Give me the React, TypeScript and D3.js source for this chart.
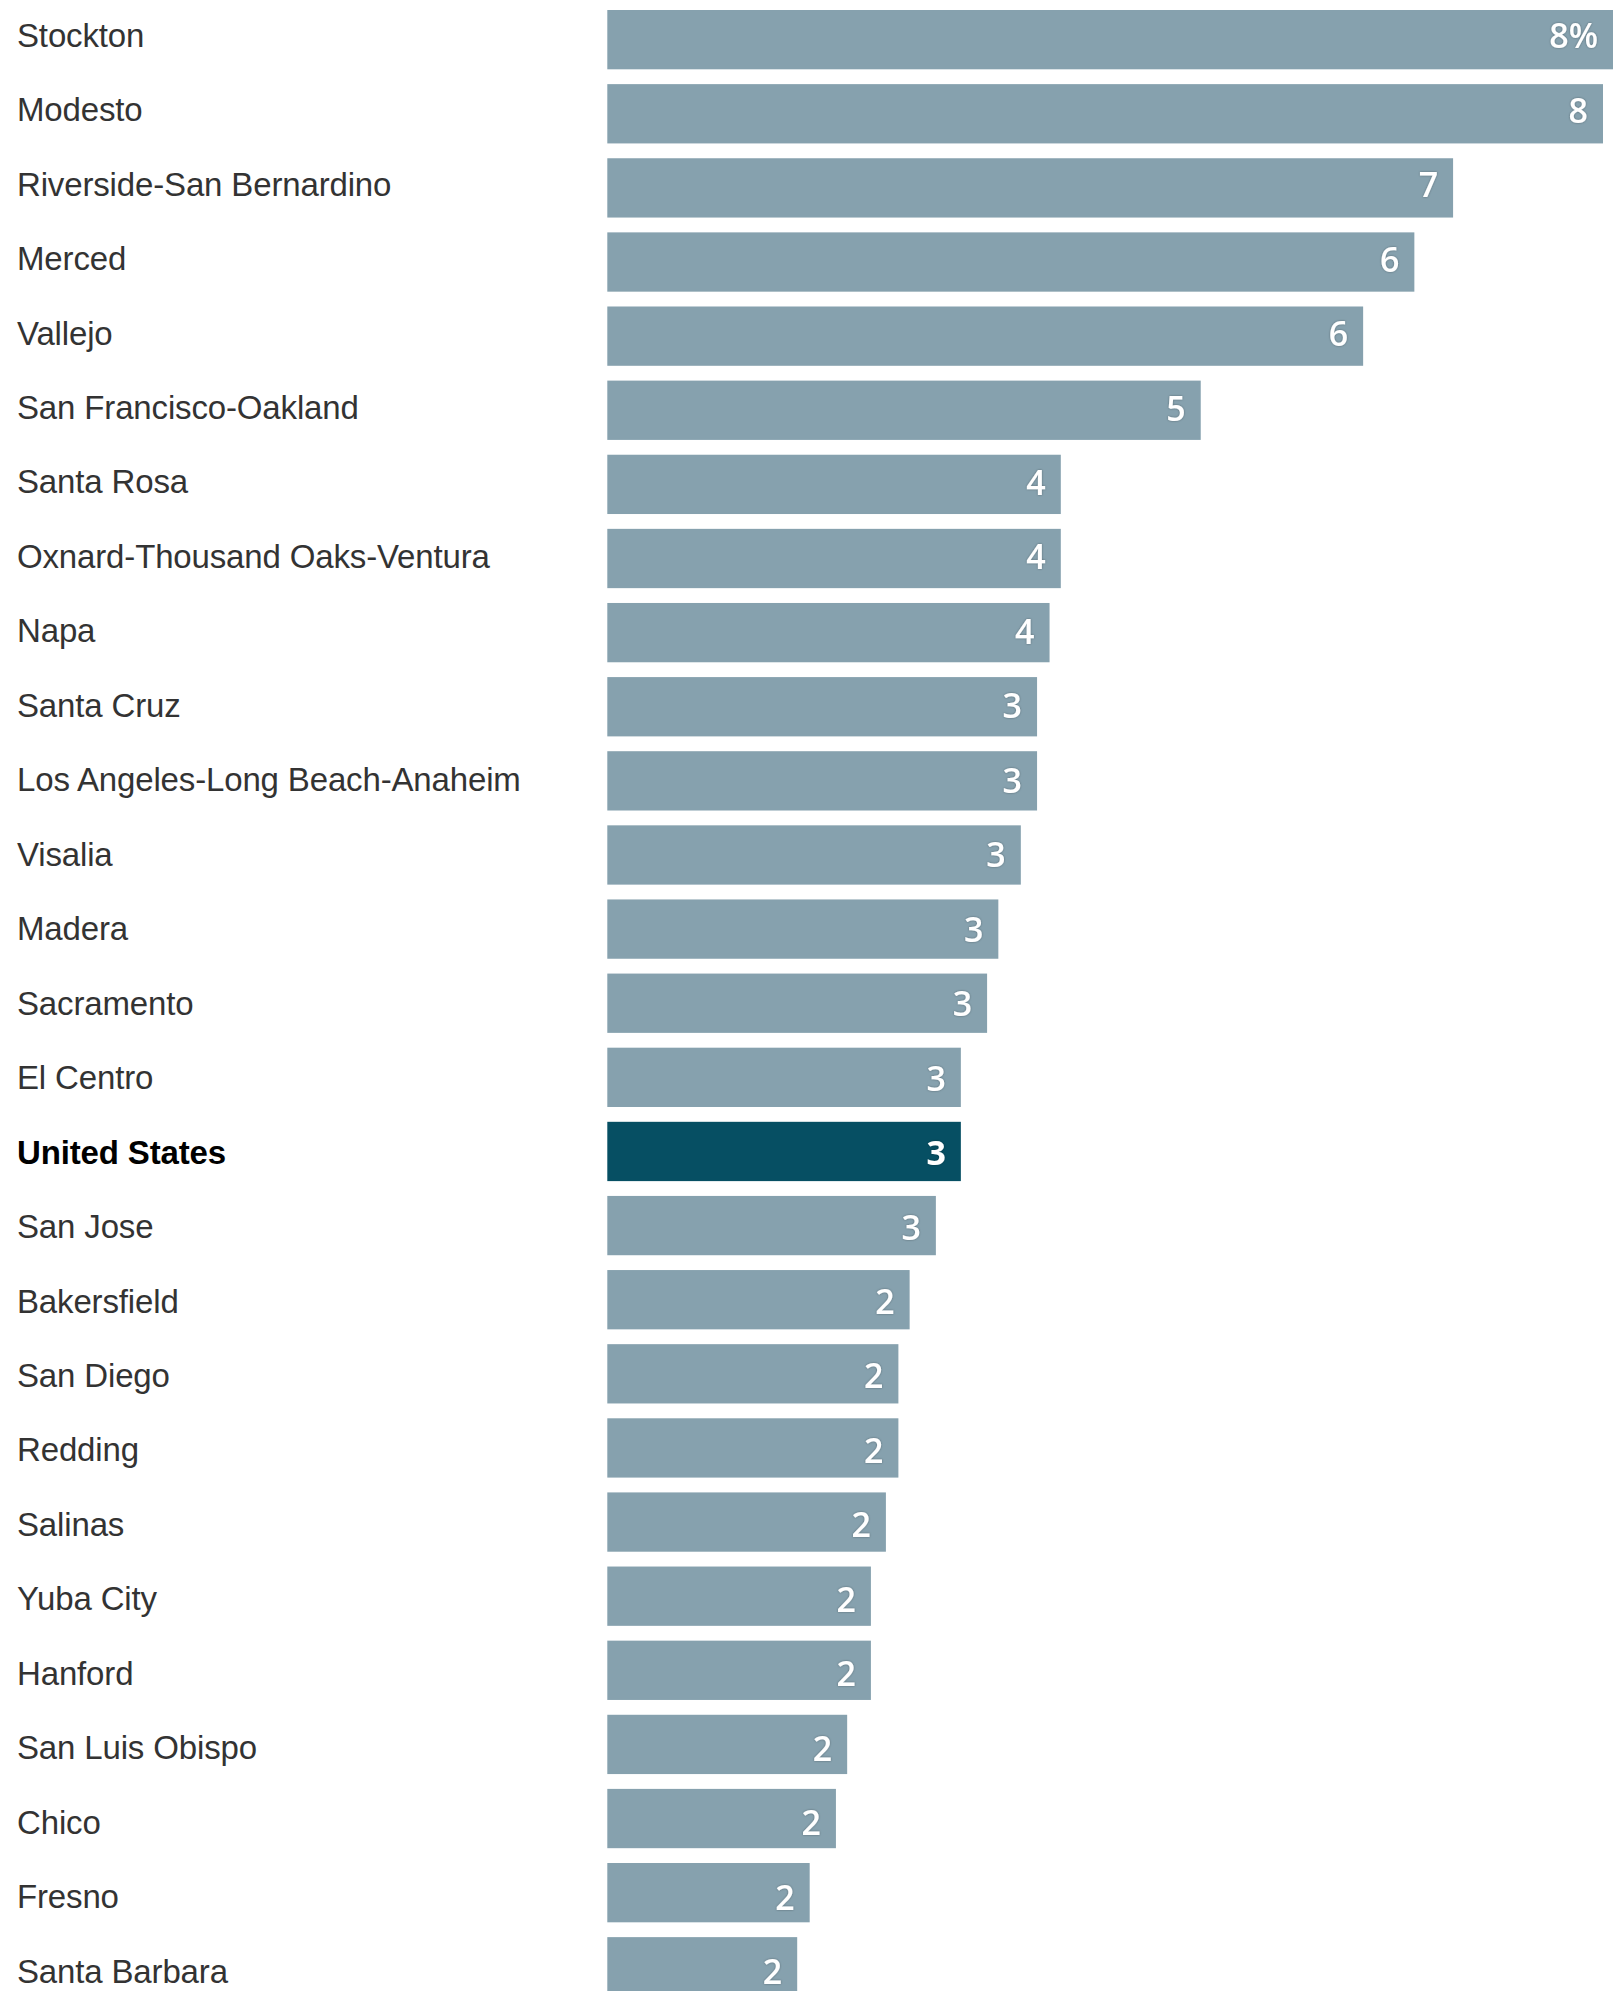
import React from "react";
import * as d3 from "d3";

const metros: string[] = [
  "Stockton", "Modesto", "Riverside-San Bernardino", "Merced", "Vallejo",
  "San Francisco-Oakland", "Santa Rosa", "Oxnard-Thousand Oaks-Ventura", "Napa",
  "Santa Cruz", "Los Angeles-Long Beach-Anaheim", "Visalia", "Madera", "Sacramento",
  "El Centro", "United States", "San Jose", "Bakersfield", "San Diego", "Redding",
  "Salinas", "Yuba City", "Hanford", "San Luis Obispo", "Chico", "Fresno", "Santa Barbara",
];

const values: number[] = [
  8.1, 7.97, 6.77, 6.46, 6.05,
  4.75, 3.63, 3.63, 3.54,
  3.44, 3.44, 3.31, 3.13, 3.04,
  2.83, 2.83, 2.63, 2.42, 2.33, 2.33,
  2.23, 2.11, 2.11, 1.92, 1.83, 1.62, 1.52,
];

const valueLabels: string[] = [
  "8%", "8", "7", "6", "6",
  "5", "4", "4", "4",
  "3", "3", "3", "3", "3",
  "3", "3", "3", "2", "2", "2",
  "2", "2", "2", "2", "2", "2", "2",
];

const highlight = "United States";

const W = 1613;
const H = 1991;

export default function App() {
  const x = d3.scaleLinear().domain([0, 8.05]).range([607.3, 1613]);
  const y = d3
    .scaleBand<string>()
    .domain(metros)
    .range([2.6, 2.6 + 27 * 74.12])
    .paddingInner(0.2)
    .paddingOuter(0.1);
  const bw = y.bandwidth();
  // text rows sit on a slightly larger pitch than the bars
  const yl = d3
    .scalePoint<string>()
    .domain(metros)
    .range([46.7, 46.7 + 26 * 74.46]);

  return (
    <svg
      width={W}
      height={H}
      style={{ position: "absolute", left: 0, top: 0, background: "#fff" }}
    >
      <defs>
        <filter id="ts" x="-20%" y="-20%" width="140%" height="140%">
          <feDropShadow dx="0" dy="0" stdDeviation="1.2" floodColor="#000" floodOpacity="0.35" />
        </filter>
      </defs>
      {metros.map((m, i) => {
        const y0 = y(m) as number;
        const isHi = m === highlight;
        const xr = x(values[i]);
        const ty = yl(m) as number;
        return (
          <g key={m}>
            <text
              x={17}
              y={ty}
              fontFamily="'Liberation Sans', Arial, sans-serif"
              fontSize={33}
              letterSpacing={-0.15}
              fontWeight={isHi ? 700 : 400}
              fill={isHi ? "#000" : "#333"}
            >
              {m}
            </text>
            <rect
              x={x(0)}
              y={y0}
              width={xr - x(0)}
              height={bw}
              fill={isHi ? "#064f63" : "#86a1ae"}
            />
            <text
              x={Math.min(xr, W) - 15}
              y={ty + 1.5}
              textAnchor="end"
              fontFamily="'Open Sans', Lato, sans-serif"
              fontSize={34}
              fontWeight={isHi ? 700 : 600}
              fill="#fff"
              filter="url(#ts)"
            >
              {valueLabels[i]}
            </text>
          </g>
        );
      })}
    </svg>
  );
}
